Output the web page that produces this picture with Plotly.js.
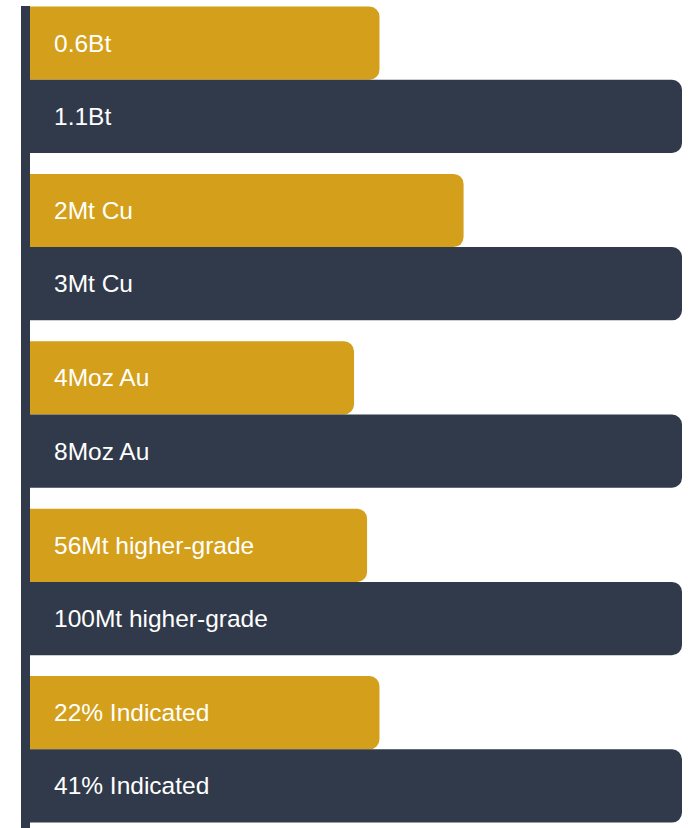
<!DOCTYPE html>
<html>
<head>
<meta charset="utf-8">
<script src="https://cdn.plot.ly/plotly-3.0.1.min.js"></script>
<style>html,body{margin:0;padding:0;background:#fff;}#chart{width:692px;height:828px;}</style>
</head>
<body>
<div id="chart"></div>
<script>
// Data
const categories = ['Resource tonnage', 'Contained copper', 'Contained gold', 'Higher-grade tonnage', 'Indicated share'];
const previousLabels = ['0.6Bt', '2Mt Cu', '4Moz Au', '56Mt higher-grade', '22% Indicated'];
const currentLabels = ['1.1Bt', '3Mt Cu', '8Moz Au', '100Mt higher-grade', '41% Indicated'];
// bar lengths, relative scale (current = 100)
const previousValues = [53.6, 66.5, 49.7, 51.7, 53.6];
const currentValues = [100, 100, 100, 100, 100];

const GOLD = '#D4A01B';
const NAVY = '#313A4A';
const FONT = '"Liberation Sans", Arial, Helvetica, sans-serif';

const traces = [
  {
    type: 'bar', orientation: 'h', name: 'Previous',
    y: categories, x: previousValues,
    marker: {color: GOLD, line: {width: 0}},
    hoverinfo: 'skip'
  },
  {
    type: 'bar', orientation: 'h', name: 'Current',
    y: categories, x: currentValues,
    marker: {color: NAVY, line: {width: 0}},
    hoverinfo: 'skip'
  }
];

const halfBar = (1 - 0.125) / 4; // centre offset of each bar inside its group
const annotations = [];
categories.forEach((c, i) => {
  annotations.push({
    x: 0, xref: 'x', y: i - halfBar, yref: 'y',
    xanchor: 'left', yanchor: 'middle', xshift: 22,
    text: previousLabels[i], showarrow: false,
    font: {family: FONT, size: 24.5, color: '#ffffff'}
  });
  annotations.push({
    x: 0, xref: 'x', y: i + halfBar, yref: 'y',
    xanchor: 'left', yanchor: 'middle', xshift: 22,
    text: currentLabels[i], showarrow: false,
    font: {family: FONT, size: 24.5, color: '#ffffff'}
  });
});

const layout = {
  width: 692, height: 828,
  margin: {l: 30, r: 9.5, t: 6, b: 0, pad: 0},
  paper_bgcolor: '#ffffff', plot_bgcolor: '#ffffff',
  barmode: 'group', bargap: 0.125, bargroupgap: 0,
  barcornerradius: 10,
  showlegend: false,
  font: {family: FONT},
  xaxis: {
    range: [0, 100], showgrid: false, zeroline: false, showline: false,
    showticklabels: false, ticks: '', fixedrange: true
  },
  yaxis: {
    type: 'category', range: [4.47, -0.4404],
    showgrid: false, zeroline: false, showticklabels: false, ticks: '',
    showline: true, linecolor: NAVY, linewidth: 9, fixedrange: true
  },
  annotations: annotations
};

Plotly.newPlot('chart', traces, layout, {displayModeBar: false, staticPlot: true});
</script>
</body>
</html>
